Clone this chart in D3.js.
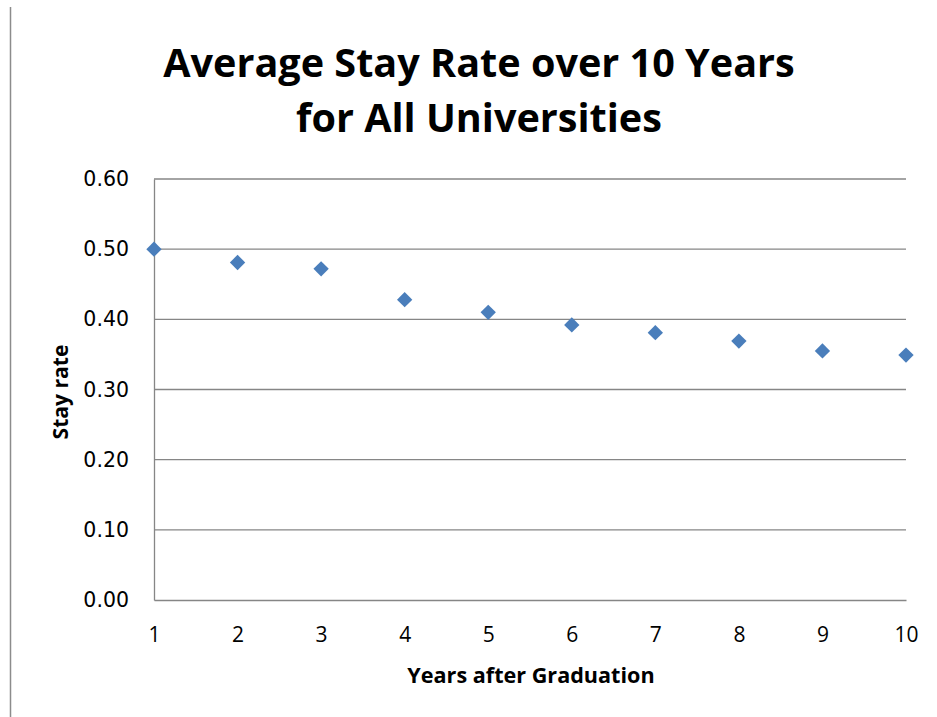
<!DOCTYPE html>
<html>
<head>
<meta charset="utf-8">
<script src="https://cdn.jsdelivr.net/npm/d3@7"></script>
<style>
  body { margin: 0; background: #fff; }
  svg { display: block; }
</style>
</head>
<body>
<svg id="drawing_region"></svg>
<script>
// data
const years = [1, 2, 3, 4, 5, 6, 7, 8, 9, 10];
const stayRate = [0.500, 0.481, 0.472, 0.428, 0.410, 0.392, 0.381, 0.369, 0.355, 0.349];
const yTicks = [0, 0.1, 0.2, 0.3, 0.4, 0.5, 0.6];
const titleLines = ["Average Stay Rate over 10 Years", "for All Universities"];

const width = 937, height = 717;
const margin = {top: 179, right: 31, bottom: 117, left: 154};
const inner_width = width - margin.left - margin.right;
const inner_height = height - margin.top - margin.bottom;

const svg = d3.select('#drawing_region')
    .attr('width', width)
    .attr('height', height);

// thin frame line at the left edge
svg.append('line')
    .attr('x1', 10.5).attr('x2', 10.5)
    .attr('y1', 7).attr('y2', height)
    .attr('stroke', '#8c8c8c')
    .attr('stroke-width', 1.5);

const chart = svg.append('g')
    .attr('transform', `translate(${margin.left}, ${margin.top})`);

const xscale = d3.scaleLinear()
    .domain([1, 10])
    .range([0, inner_width]);

const yscale = d3.scaleLinear()
    .domain([0, 0.6])
    .range([inner_height, 0]);

// gridlines
chart.append('g')
    .selectAll('line')
    .data(yTicks.filter(d => d > 0))
    .enter()
    .append('line')
    .attr('x1', 0).attr('x2', inner_width)
    .attr('y1', d => yscale(d)).attr('y2', d => yscale(d))
    .attr('stroke', '#868686')
    .attr('stroke-width', 1.3);

// axes
const yaxis = d3.axisLeft(yscale)
    .tickValues(yTicks)
    .tickFormat(d3.format('.2f'))
    .tickSize(0)
    .tickPadding(25);

const yaxis_group = chart.append('g').call(yaxis);
yaxis_group.select('.domain').attr('stroke', '#868686').attr('stroke-width', 1.3);
yaxis_group.selectAll('text')
    .style('font-family', 'DejaVu Sans')
    .style('font-size', '20.5px')
    .attr('fill', '#000');

const xaxis = d3.axisBottom(xscale)
    .tickValues(years)
    .tickFormat(d3.format('d'))
    .tickSize(0)
    .tickPadding(27);

const xaxis_group = chart.append('g')
    .attr('transform', `translate(0, ${inner_height})`)
    .call(xaxis);
xaxis_group.select('.domain').attr('stroke', '#868686').attr('stroke-width', 1.3);
xaxis_group.selectAll('text')
    .style('font-family', 'Open Sans')
    .style('font-size', '21px')
    .attr('fill', '#000');

// points (diamonds)
chart.append('g')
    .selectAll('path')
    .data(years)
    .enter()
    .append('path')
    .attr('d', d3.symbol().type(d3.symbolDiamond2).size(150))
    .attr('transform', (d, i) => `translate(${xscale(d)}, ${yscale(stayRate[i])})`)
    .attr('fill', '#4a7ebb');

// title
const title = svg.append('text')
    .attr('text-anchor', 'middle')
    .style('font-family', 'Open Sans')
    .style('font-weight', 'bold')
    .style('font-size', '38px');
titleLines.forEach((t, i) => {
    title.append('tspan')
        .attr('x', 479)
        .attr('y', 77 + i * 55)
        .text(t);
});
// scale to the reference width of the first line
const w0 = title.select('tspan').node().getComputedTextLength();
title.style('font-size', (38 * 632 / w0).toFixed(1) + 'px');

// axis titles
const xl = svg.append('text')
    .attr('x', 531)
    .attr('y', 683)
    .attr('text-anchor', 'middle')
    .style('font-family', 'Open Sans')
    .style('font-weight', 'bold')
    .style('font-size', '19px')
    .text('Years after Graduation');
const wx = xl.node().getComputedTextLength();
xl.style('font-size', (19 * 247 / wx).toFixed(1) + 'px');

const yl = svg.append('text')
    .attr('transform', 'translate(68, 392) rotate(-90)')
    .attr('text-anchor', 'middle')
    .style('font-family', 'Open Sans')
    .style('font-weight', 'bold')
    .style('font-size', '19px')
    .text('Stay rate');
const wy = yl.node().getComputedTextLength();
yl.style('font-size', (19 * 95 / wy).toFixed(1) + 'px');
</script>
</body>
</html>
